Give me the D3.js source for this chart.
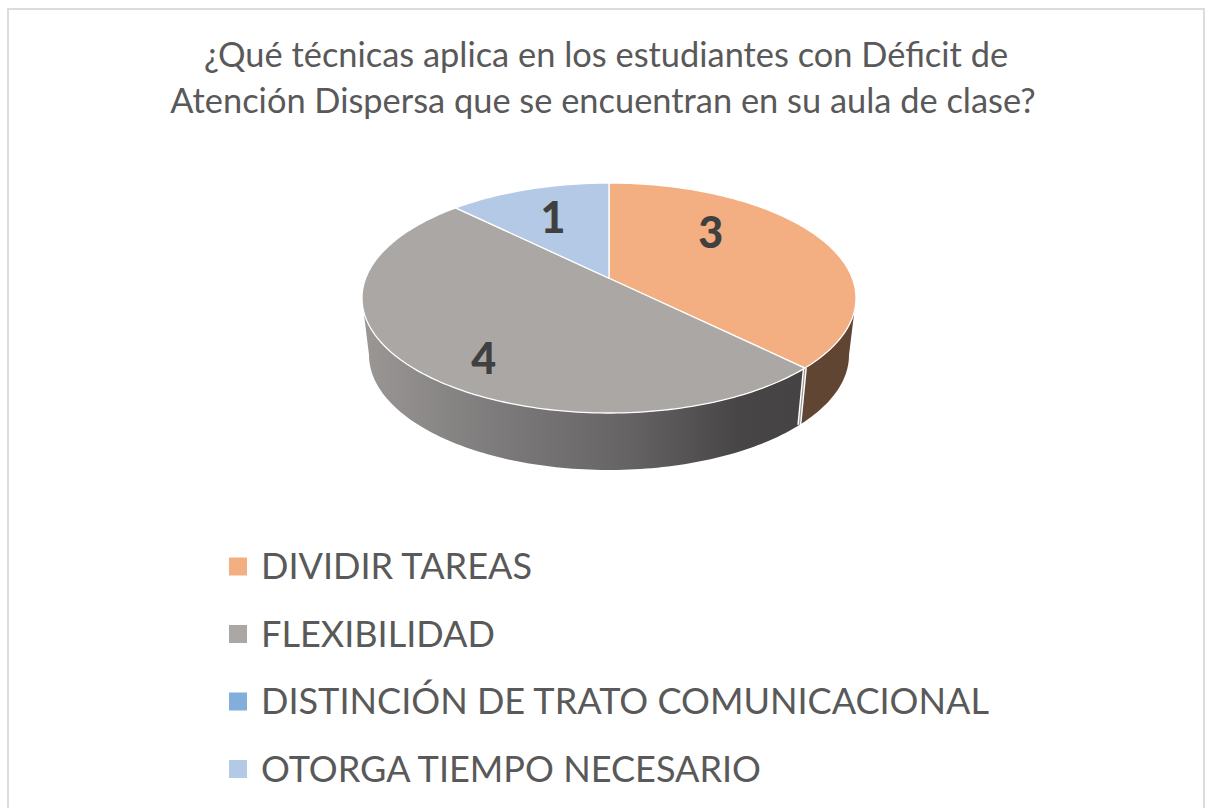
<!DOCTYPE html>
<html>
<head>
<meta charset="utf-8">
<script src="https://cdnjs.cloudflare.com/ajax/libs/d3/7.8.5/d3.min.js"></script>
<style>
html, body { margin: 0; padding: 0; background: #fff; overflow: hidden; }
text { font-family: Lato, "Open Sans", sans-serif; }
</style>
</head>
<body>
<div id="chart"></div>
<script>
var titleLines = ["¿Qué técnicas aplica en los estudiantes con Déficit de",
                  "Atención Dispersa que se encuentran en su aula de clase?"];
var categories = ["DIVIDIR TAREAS", "FLEXIBILIDAD", "DISTINCIÓN DE TRATO COMUNICACIONAL", "OTORGA TIEMPO NECESARIO"];
var values = [3, 4, 0, 1];
var colors = ["#f3af81", "#aba7a5", "#82aedc", "#b4c9e5"];
var sideColors = ["#604532", "url(#graySide)", "#46627f", "#6b7888"];
// nudge of each value label away from the slice's mid point, px
var labelNudge = [[-28, -21], [-14, 29], [0, 0], [-5, -4]];

var width = 1210, height = 808;
var tilt = 0.172; // perspective shift of the pie disc

var svg = d3.select("#chart").append("svg")
    .attr("width", width)
    .attr("height", height);

var defs = svg.append("defs");
var grad = defs.append("linearGradient")
    .attr("id", "graySide")
    .attr("gradientUnits", "userSpaceOnUse")
    .attr("x1", 362).attr("x2", 805).attr("y1", 0).attr("y2", 0);
grad.selectAll("stop")
    .data([[0, "#9a9795"], [0.3, "#7d7b7b"], [0.6, "#656363"], [0.85, "#474545"], [1, "#454343"]])
    .enter().append("stop")
    .attr("offset", function(d) { return d[0]; })
    .attr("stop-color", function(d) { return d[1]; });

// frame
svg.append("rect")
    .attr("x", 8).attr("y", 9)
    .attr("width", 1196).attr("height", 820)
    .attr("fill", "none")
    .attr("stroke", "#dcdcdc")
    .attr("stroke-width", 2);

// title
svg.selectAll(".title")
    .data(titleLines)
    .enter().append("text")
    .attr("class", "title")
    .attr("x", function(d, i) { return 606 - i * 3; })
    .attr("y", function(d, i) { return 67 + i * 46; })
    .attr("text-anchor", "middle")
    .attr("font-size", 34.4)
    .attr("fill", "#595959")
    .text(function(d) { return d; });

// top disc and bottom rim are two ellipses, in unit coordinates
var topX = d3.scaleLinear().domain([-1, 1]).range([362, 856]);
var topY = d3.scaleLinear().domain([-1, 1]).range([413, 183]);
var botX = d3.scaleLinear().domain([-1, 1]).range([369, 849]);
var botY = d3.scaleLinear().domain([-1, 1]).range([470, 240]);

function unit(angle, r) {
    var x = r * Math.sin(angle), y = r * Math.cos(angle);
    var w = 1 + tilt * y;
    return [x * Math.sqrt(1 - tilt * tilt) / w, (y + tilt) / w];
}
function onTop(angle, r) {
    var p = unit(angle, r);
    return [topX(p[0]), topY(p[1])];
}
function onBottom(angle) {
    var p = unit(angle, 1);
    return [botX(p[0]), botY(p[1])];
}
function arcAngles(a0, a1) {
    var n = Math.max(2, Math.ceil(Math.abs(a1 - a0) / 0.02));
    return d3.range(n + 1).map(function(i) { return a0 + (a1 - a0) * i / n; });
}

var pie = d3.pie().sort(null)(values);
var line = d3.line();

// front wall, only the part of each slice that faces the viewer
var wallFrom = Math.acos(-tilt), wallTo = 2 * Math.PI - wallFrom;
var walls = pie.filter(function(d) {
    return d.value > 0 && d.endAngle > wallFrom && d.startAngle < wallTo;
});
svg.selectAll(".wall")
    .data(walls)
    .enter().append("path")
    .attr("class", "wall")
    .attr("fill", function(d) { return sideColors[d.index]; })
    .attr("d", function(d) {
        var a = arcAngles(Math.max(d.startAngle, wallFrom), Math.min(d.endAngle, wallTo));
        return line(a.map(function(t) { return onTop(t, 1); })
            .concat(a.slice().reverse().map(onBottom))) + "Z";
    });

// seam between walls
walls.slice(1).forEach(function(d) {
    var seam = line([onTop(d.startAngle, 1), onBottom(d.startAngle)]);
    svg.append("path").attr("d", seam).attr("stroke", "#fff").attr("stroke-width", 4).attr("fill", "none");
    svg.append("path").attr("d", seam).attr("stroke", "#9c9896").attr("stroke-width", 1.2).attr("fill", "none");
});

// top of the slices
svg.selectAll(".slice")
    .data(pie.filter(function(d) { return d.value > 0; }))
    .enter().append("path")
    .attr("class", "slice")
    .attr("fill", function(d) { return colors[d.index]; })
    .attr("stroke", "#fff")
    .attr("stroke-width", 1.3)
    .attr("stroke-linejoin", "round")
    .attr("d", function(d) {
        var pts = arcAngles(d.startAngle, d.endAngle).map(function(t) { return onTop(t, 1); });
        pts.push(onTop(0, 0));
        return line(pts) + "Z";
    });

// value labels
svg.selectAll(".value")
    .data(pie.filter(function(d) { return d.value > 0; }))
    .enter().append("text")
    .attr("class", "value")
    .attr("x", function(d) { return onTop((d.startAngle + d.endAngle) / 2, 0.6)[0] + labelNudge[d.index][0]; })
    .attr("y", function(d) { return onTop((d.startAngle + d.endAngle) / 2, 0.6)[1] + labelNudge[d.index][1]; })
    .attr("dy", "0.36em")
    .attr("text-anchor", "middle")
    .attr("font-size", 43)
    .attr("font-weight", 900)
    .attr("fill", "#404040")
    .text(function(d) { return d.value; });

// legend
var legendY = d3.scalePoint().domain(categories).range([566.5, 769]);
var legend = svg.selectAll(".legend")
    .data(categories)
    .enter().append("g")
    .attr("class", "legend")
    .attr("transform", function(d) { return "translate(229," + legendY(d) + ")"; });
legend.append("rect")
    .attr("y", -9)
    .attr("width", 18)
    .attr("height", 18)
    .attr("fill", function(d, i) { return colors[i]; });
legend.append("text")
    .attr("x", 32)
    .attr("y", 12.5)
    .attr("font-size", 36.1)
    .attr("fill", "#595959")
    .text(function(d) { return d; });
</script>
</body>
</html>
